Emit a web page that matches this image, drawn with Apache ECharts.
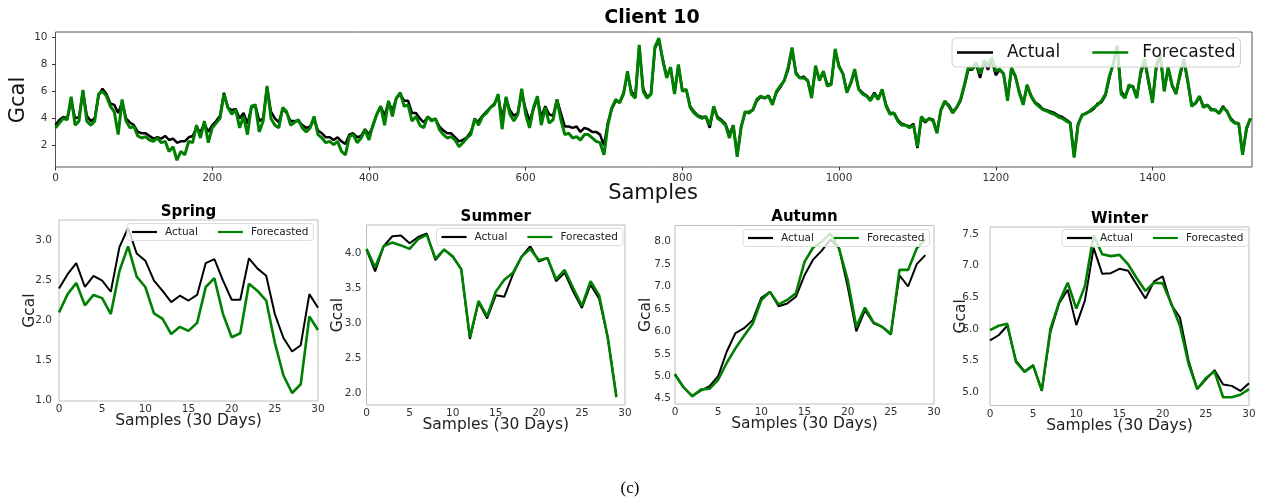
<!DOCTYPE html>
<html>
<head>
<meta charset="utf-8">
<script src="https://cdn.jsdelivr.net/npm/echarts@6/dist/echarts.min.js"></script>
<style>
  html, body { margin: 0; padding: 0; background: #fff; }
  #chart { width: 1261px; height: 501px; }
</style>
</head>
<body>
<div id="chart"></div>
<script>
// ---- Full series (one reading every SAMPLE_STEP samples) ----
const SAMPLE_STEP = 5;
const topXTicks = [0, 200, 400, 600, 800, 1000, 1200, 1400];
const topYTicks = [2, 4, 6, 8, 10];

const topActual = [
  3.5,3.9,4.1,4.0,5.3,4.0,4.1,6.0,4.2,3.8,4.0,5.7,6.2,5.8,5.1,5.0,4.4,5.2,4.0,3.7,
  3.5,3.0,2.9,2.9,2.7,2.5,2.6,2.5,2.7,2.4,2.5,2.2,2.3,2.3,2.6,2.7,3.3,3.0,3.6,3.0,
  3.5,3.8,4.2,5.9,4.8,4.6,4.7,4.0,4.4,3.6,4.8,5.0,3.8,4.0,6.3,4.5,4.0,3.7,4.7,4.4,
  3.8,3.8,3.8,3.5,3.3,3.4,3.9,3.1,2.9,2.6,2.6,2.4,2.6,2.3,2.1,2.8,2.9,2.6,2.7,3.2,
  2.8,3.4,4.3,4.9,4.2,5.2,4.6,5.5,5.8,5.3,5.3,4.4,4.4,4.0,3.7,4.1,3.9,3.9,3.4,3.1,
  2.9,2.9,2.6,2.3,2.4,2.6,3.0,3.8,3.8,4.2,4.5,4.8,5.1,5.6,4.0,5.5,4.6,4.2,4.4,5.9,
  4.7,3.8,4.7,5.5,4.1,4.9,4.3,4.2,5.4,4.4,3.4,3.4,3.3,3.4,3.0,3.3,3.2,3.0,3.0,2.8,
  2.0,3.7,4.7,5.3,5.2,5.9,7.3,6.0,5.6,9.3,6.2,5.6,5.8,9.2,9.8,8.4,7.1,7.7,5.9,7.9,
  6.1,6.1,4.9,4.5,4.2,4.1,4.1,3.3,4.8,4.1,3.9,3.6,2.8,3.5,1.3,3.4,4.4,4.5,4.6,5.3,
  5.6,5.5,5.7,5.1,5.9,6.3,6.8,7.6,9.1,7.4,7.0,7.1,6.8,5.7,7.7,6.9,7.4,6.5,6.6,9.0,
  7.9,7.3,6.0,6.6,7.5,6.2,5.9,5.7,5.4,5.9,5.5,6.1,5.0,4.4,4.4,3.9,3.6,3.5,3.4,3.6,
  1.8,4.0,3.7,4.0,3.9,3.0,4.6,5.2,5.0,4.5,4.8,5.3,6.4,7.6,7.6,8.0,7.0,8.2,7.6,8.3,
  7.2,7.6,7.3,5.5,7.6,7.1,6.0,5.1,6.4,5.7,5.2,5.0,4.7,4.6,4.5,4.4,4.2,4.1,3.9,3.7,
  1.2,3.6,4.2,4.4,4.5,4.7,5.1,5.2,5.7,7.0,8.1,9.3,6.0,5.6,6.3,6.4,5.6,7.3,8.3,6.6,
  5.3,7.8,8.6,6.1,7.7,6.4,5.9,7.1,8.3,6.7,5.0,5.1,5.6,4.9,5.0,4.7,4.6,4.4,4.9,4.5,
  4.0,3.7,3.6,1.4,3.2,4.0
];

const topForecast = [
  3.3,3.65,4.0,3.9,5.6,3.5,3.8,6.1,3.8,3.5,3.8,5.8,6.0,5.65,4.9,4.5,2.8,5.4,3.8,3.3,
  3.4,2.7,2.55,2.65,2.4,2.3,2.55,2.2,2.3,1.55,1.9,0.9,1.55,1.3,2.3,2.2,3.5,2.55,3.8,2.2,
  3.3,3.65,4.0,5.8,4.8,4.3,4.65,3.3,4.15,2.8,4.9,5.0,3.0,3.8,6.4,4.0,3.5,3.3,4.8,4.5,
  3.5,3.7,3.9,3.3,3.0,3.3,4.15,2.8,2.55,2.2,2.3,2.05,2.3,1.55,1.3,2.65,2.8,2.2,2.55,3.15,
  2.4,3.5,4.3,4.9,3.5,5.3,4.15,5.5,5.9,4.9,5.0,3.8,4.15,3.5,3.3,4.15,3.8,4.0,3.15,2.8,
  2.55,2.65,2.4,1.9,2.2,2.55,2.8,4.0,3.5,4.15,4.4,4.8,5.0,5.8,3.2,5.6,4.3,3.8,4.3,6.2,
  4.3,3.3,4.8,5.65,3.5,4.8,3.65,3.9,5.4,3.9,2.8,2.9,2.55,2.65,2.4,2.8,2.8,2.55,2.3,2.2,
  1.3,3.5,4.8,5.4,5.15,5.8,7.5,5.8,5.5,9.45,6.0,5.5,5.8,9.3,9.95,8.3,7.0,7.8,5.8,8.0,
  6.0,6.15,4.8,4.4,4.15,4.0,4.15,3.5,4.9,4.0,3.8,3.5,2.55,3.5,1.15,3.3,4.5,4.4,4.65,5.4,
  5.65,5.5,5.65,5.0,6.0,6.4,6.8,7.8,9.25,7.3,7.0,7.0,6.8,5.5,7.9,6.8,7.5,6.4,6.5,9.15,
  7.8,7.3,5.9,6.65,7.65,6.15,5.8,5.65,5.3,5.8,5.4,6.15,4.9,4.3,4.4,3.8,3.5,3.5,3.3,3.5,
  1.9,4.15,3.8,4.0,3.8,2.9,4.65,5.3,4.9,4.4,4.8,5.4,6.5,7.8,7.65,8.15,7.3,8.3,8.0,8.5,
  7.5,7.65,7.3,5.3,7.75,7.15,5.9,5.0,6.5,5.65,5.15,4.9,4.65,4.55,4.4,4.3,4.1,4.0,3.8,3.65,
  1.1,3.5,4.25,4.35,4.55,4.8,5.0,5.3,5.8,7.15,8.0,9.4,5.8,5.5,6.5,6.3,5.5,7.5,8.4,6.8,
  5.15,8.0,8.75,6.0,7.8,6.5,5.8,7.3,8.4,6.8,4.9,5.15,5.65,4.8,5.0,4.6,4.65,4.35,4.8,4.55,
  3.9,3.65,3.65,1.3,3.3,4.0
];

// ---- 30-day seasonal windows ----
const dayTicks = [0, 5, 10, 15, 20, 25, 30];

const springActual   = [2.4,2.58,2.72,2.42,2.56,2.5,2.36,2.92,3.16,2.84,2.75,2.5,2.37,2.23,2.31,2.25,2.32,2.72,2.77,2.5,2.26,2.26,2.78,2.65,2.56,2.08,1.78,1.61,1.69,2.33,2.16];
const springForecast = [2.1,2.33,2.47,2.19,2.32,2.28,2.08,2.62,2.93,2.55,2.42,2.09,2.02,1.83,1.92,1.87,1.97,2.42,2.53,2.08,1.79,1.84,2.46,2.37,2.25,1.72,1.31,1.09,1.2,2.05,1.88];
const springYTicks   = [1.0, 1.5, 2.0, 2.5, 3.0];

const summerActual   = [4.05,3.74,4.1,4.24,4.25,4.14,4.23,4.28,3.9,4.05,3.96,3.77,2.78,3.3,3.07,3.4,3.38,3.7,3.95,4.1,3.88,3.93,3.6,3.72,3.45,3.22,3.55,3.35,2.8,1.97];
const summerForecast = [4.06,3.8,4.1,4.15,4.11,4.06,4.2,4.26,3.92,4.05,3.95,3.77,2.8,3.32,3.1,3.45,3.62,3.72,3.95,4.06,3.9,3.93,3.63,3.76,3.5,3.25,3.6,3.4,2.8,1.95];
const summerYTicks   = [2.0, 2.5, 3.0, 3.5, 4.0];

const autumnActual   = [5.05,4.75,4.56,4.68,4.78,5.0,5.55,5.96,6.07,6.25,6.75,6.88,6.56,6.62,6.77,7.25,7.6,7.8,8.05,7.85,7.0,6.0,6.47,6.18,6.1,5.95,7.25,7.0,7.5,7.7];
const autumnForecast = [5.03,4.75,4.55,4.7,4.72,4.92,5.3,5.62,5.9,6.17,6.7,6.88,6.6,6.7,6.85,7.55,7.87,8.0,8.18,7.85,7.15,6.1,6.53,6.2,6.1,5.93,7.37,7.37,7.85,8.05];
const autumnYTicks   = [4.5, 5.0, 5.5, 6.0, 6.5, 7.0, 7.5, 8.0];

const winterActual   = [5.82,5.9,6.05,5.5,5.33,5.43,5.02,5.95,6.4,6.62,6.06,6.45,7.28,6.87,6.88,6.95,6.92,6.7,6.48,6.75,6.83,6.38,6.18,5.5,5.05,5.2,5.35,5.12,5.1,5.02,5.14];
const winterForecast = [5.98,6.05,6.08,5.48,5.32,5.42,5.03,6.0,6.42,6.73,6.32,6.68,7.48,7.18,7.15,7.17,7.02,6.8,6.6,6.73,6.72,6.4,6.05,5.45,5.05,5.22,5.33,4.92,4.92,4.96,5.05];
const winterYTicks   = [5.0, 5.5, 6.0, 6.5, 7.0, 7.5];

// ---- styling ----
const FONT = '"DejaVu Sans", "Liberation Sans", sans-serif';
const GREEN = '#008000';

const chart = echarts.init(document.getElementById('chart'), null, { renderer: 'canvas' });

const toPairs = (arr, step) => arr.map((v, i) => [i * step, v]);

const panels = [
  { name: 'Spring', box: [59, 220, 259, 181], y: [0.99, 3.26], ticks: springYTicks, a: springActual, f: springForecast, yMargin: 7 },
  { name: 'Summer', box: [366.5, 225, 258.5, 180], y: [1.84, 4.40], ticks: summerYTicks, a: summerActual, f: summerForecast, yMargin: 5 },
  { name: 'Autumn', box: [675, 225.5, 259, 178.5], y: [4.38, 8.36], ticks: autumnYTicks, a: autumnActual, f: autumnForecast, yMargin: 4 },
  { name: 'Winter', box: [990, 227, 259, 178.5], y: [4.79, 7.61], ticks: winterYTicks, a: winterActual, f: winterForecast, yMargin: 11 }
];

const grid = [{
  left: 55.5, top: 32, width: 1196.5, height: 135,
  show: true, borderColor: '#555', borderWidth: 1, backgroundColor: '#fff'
}];
const xAxis = [{
  type: 'value', gridIndex: 0, min: 0, max: 1527,
  axisLine: { show: false }, splitLine: { show: false },
  axisTick: { show: true, customValues: topXTicks, length: 3.5, lineStyle: { color: '#333' } },
  axisLabel: { customValues: topXTicks, fontFamily: FONT, fontSize: 10.5, color: '#333', margin: 6,
    formatter: v => String(v) }
}];
const yAxis = [{
  type: 'value', gridIndex: 0, min: 0.4, max: 10.4,
  axisLine: { show: false }, splitLine: { show: false },
  axisTick: { show: true, customValues: topYTicks, length: 3.5, lineStyle: { color: '#333' } },
  axisLabel: { customValues: topYTicks, fontFamily: FONT, fontSize: 10.5, color: '#333', margin: 8,
    formatter: v => String(v) }
}];
const series = [
  { name: 'Actual', type: 'line', xAxisIndex: 0, yAxisIndex: 0, data: toPairs(topActual, SAMPLE_STEP),
    showSymbol: false, symbol: 'none', lineStyle: { color: '#000', width: 2.5 }, itemStyle: { color: '#000' } },
  { name: 'Forecasted', type: 'line', xAxisIndex: 0, yAxisIndex: 0, data: toPairs(topForecast, SAMPLE_STEP),
    showSymbol: false, symbol: 'none', lineStyle: { color: GREEN, width: 3 }, itemStyle: { color: GREEN } }
];
const legend = [{
  left: 952, top: 38, orient: 'horizontal',
  data: ['Actual', 'Forecasted'],
  icon: 'rect', itemWidth: 36, itemHeight: 2.6, itemGap: 32,
  padding: [6, 5, 6, 5],
  backgroundColor: 'rgba(255,255,255,0.8)', borderColor: '#d0d0d0', borderWidth: 1, borderRadius: 4,
  textStyle: { fontFamily: FONT, fontSize: 17, color: '#111', padding: [0, 0, 0, 9], lineHeight: 17 },
  selectedMode: false
}];
const graphic = [
  { type: 'text', x: 652, y: 18, style: { text: 'Client 10', font: 'bold 19px ' + FONT, fill: '#000', textAlign: 'center', textVerticalAlign: 'middle', verticalAlign: 'middle' } },
  { type: 'text', x: 653, y: 194, style: { text: 'Samples', font: '21px ' + FONT, fill: '#111', textAlign: 'center', textVerticalAlign: 'middle', verticalAlign: 'middle' } },
  { type: 'text', x: 19, y: 100, rotation: Math.PI / 2, style: { text: 'Gcal', font: '21px ' + FONT, fill: '#111', textAlign: 'center', textVerticalAlign: 'middle', verticalAlign: 'middle' } },
  { type: 'text', x: 630, y: 489, style: { text: '(c)', font: '17px "Liberation Serif", "DejaVu Serif", serif', fill: '#000', textAlign: 'center', textVerticalAlign: 'middle', verticalAlign: 'middle' } }
];

panels.forEach((p, k) => {
  const gi = k + 1;
  const [l, t, w, h] = p.box;
  grid.push({ left: l, top: t, width: w, height: h, show: true, borderColor: '#bdbdbd', borderWidth: 1, backgroundColor: '#fff' });
  xAxis.push({
    type: 'value', gridIndex: gi, min: 0, max: 30,
    axisLine: { show: false }, splitLine: { show: false },
    axisTick: { show: false },
    axisLabel: { customValues: dayTicks, fontFamily: FONT, fontSize: 10.5, color: '#333', margin: 3 }
  });
  yAxis.push({
    type: 'value', gridIndex: gi, min: p.y[0], max: p.y[1],
    axisLine: { show: false }, splitLine: { show: false },
    axisTick: { show: false },
    axisLabel: { customValues: p.ticks, fontFamily: FONT, fontSize: 10.5, color: '#333', margin: p.yMargin,
      formatter: v => Number(v).toFixed(1) }
  });
  series.push(
    { name: 'Actual', type: 'line', xAxisIndex: gi, yAxisIndex: gi, data: toPairs(p.a, 1),
      showSymbol: false, symbol: 'none', lineStyle: { color: '#000', width: 2 }, itemStyle: { color: '#000' } },
    { name: 'Forecasted', type: 'line', xAxisIndex: gi, yAxisIndex: gi, data: toPairs(p.f, 1),
      showSymbol: false, symbol: 'none', lineStyle: { color: GREEN, width: 2.6 }, itemStyle: { color: GREEN } }
  );
  legend.push({
    left: l + [68, 70, 68, 72][k], top: t + [3.5, 3.5, 4, 2.5][k], orient: 'horizontal',
    data: ['Actual', 'Forecasted'],
    icon: 'rect', itemWidth: 25, itemHeight: 2.2, itemGap: 20,
    padding: [3, 5, 3, 5],
    backgroundColor: 'rgba(255,255,255,0.8)', borderColor: '#dddddd', borderWidth: 1, borderRadius: 3,
    textStyle: { fontFamily: FONT, fontSize: 10.5, color: '#222', padding: [0, 0, 0, 3], lineHeight: 11 },
    selectedMode: false
  });
  const cx = l + w / 2;
  graphic.push(
    { type: 'text', x: cx, y: t - 8, style: { text: p.name, font: 'bold 15px ' + FONT, fill: '#000', textAlign: 'center', textVerticalAlign: 'middle', verticalAlign: 'middle' } },
    { type: 'text', x: cx, y: t + h + 20, style: { text: 'Samples (30 Days)', font: '15.5px ' + FONT, fill: '#222', textAlign: 'center', textVerticalAlign: 'middle', verticalAlign: 'middle' } },
    { type: 'text', x: l - 29, y: t + h / 2, rotation: Math.PI / 2, style: { text: 'Gcal', font: '15.5px ' + FONT, fill: '#222', textAlign: 'center', textVerticalAlign: 'middle', verticalAlign: 'middle' } }
  );
});

chart.setOption({
  animation: false,
  backgroundColor: '#fff',
  grid, xAxis, yAxis, series, legend, graphic
});
</script>
</body>
</html>
